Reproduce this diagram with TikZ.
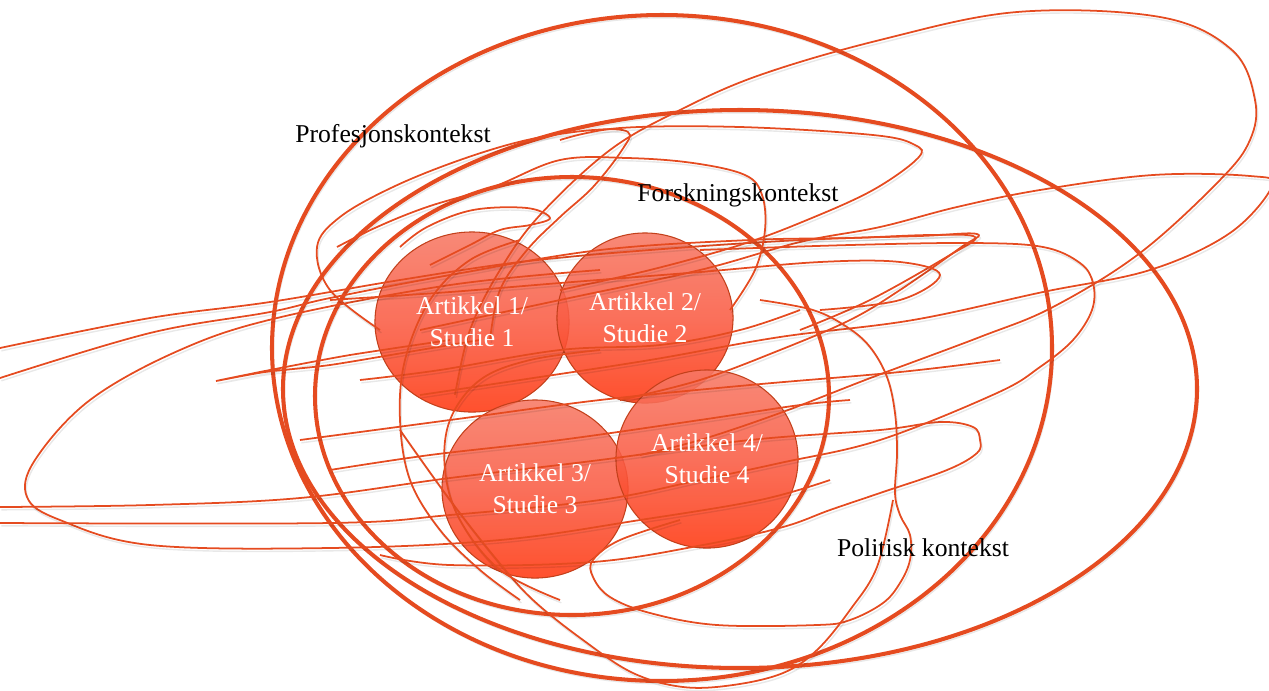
\documentclass[tikz,border=0pt]{standalone}
\usepackage{fontspec}
\setmainfont{Liberation Serif}
\usepackage{tikz}
\usetikzlibrary{shapes.geometric}

\definecolor{ctxred}{RGB}{229,75,32}
\definecolor{artlight}{RGB}{247,120,100}
\definecolor{artmid}{RGB}{249,92,68}
\definecolor{artdark}{RGB}{255,56,16}

\begin{document}
\begin{tikzpicture}[
    x=0.01cm, y=-0.01cm,
    font=\fontsize{7.3}{9.1}\selectfont,
    drop/.style   = {preaction={draw=black, draw opacity=0.09,
                     transform canvas={shift={(0.4pt,-0.8pt)}}}},
    ctx/.style    = {draw=ctxred, line width=1.15pt, drop},
    scrib/.style  = {draw=ctxred, line width=0.5pt, drop},
    art/.style    = {ellipse, draw=ctxred!85!black, line width=0.3pt,
                     top color=artlight, bottom color=artdark,
                     middle color=artmid, fill opacity=0.88,
                     inner sep=0pt},
    arttext/.style= {text=white, align=center, inner sep=0pt},
    lab/.style    = {text=black, inner sep=0.5mm}
]
\useasboundingbox (0,0) rectangle (1269,690);

% ---------------- articles (fill only) ----------------
\node[art, minimum width=1.94cm, minimum height=1.80cm] (art1) at (472,322) {};
\node[art, minimum width=1.76cm, minimum height=1.70cm] (art2) at (645,318) {};
\node[art, minimum width=1.86cm, minimum height=1.78cm] (art3) at (535,489) {};
\node[art, minimum width=1.82cm, minimum height=1.78cm] (art4) at (707,459) {};

% ---------------- context ellipses ----------------
\draw[ctx] (662,348) ellipse [x radius=390, y radius=333];
\draw[ctx] (740,389) ellipse [x radius=457, y radius=279];
\draw[ctx] (572,396) ellipse [x radius=257, y radius=219];

% ---------------- scribbles ----------------
% big loop, top right
\draw[scrib] plot[smooth, tension=0.6] coordinates {(455,395) (470,330)
  (500,270) (540,215) (610,150) (680,110) (760,75) (880,40) (1017,12)
  (1160,17) (1232,50) (1255,100) (1250,140) (1220,180) (1140,253)
  (1053,307) (980,337) (873,377) (780,413) (700,440) (640,455)};
% turn at the right edge
\draw[scrib] plot[smooth, tension=0.6] coordinates {(420,330) (560,300)
  (700,270) (800,242) (880,227) (957,207) (1040,190) (1153,175)
  (1250,176) (1272,186) (1230,233) (1150,270) (1043,292) (913,320)
  (780,337) (650,360) (520,380) (420,395)};
% long strokes from the left
\draw[scrib] plot[smooth, tension=0.6] coordinates {(0,348) (150,318)
  (270,302) (400,280) (520,262) (650,250) (800,240) (920,236) (977,234)
  (960,248) (900,290) (850,320) (780,350) (700,380) (620,400)};
\draw[scrib] plot[smooth, tension=0.6] coordinates {(0,378) (150,333)
  (270,312) (330,298) (450,275) (600,250) (750,240) (850,238) (930,235)
  (975,237) (950,255) (870,300) (800,330)};
% big loop, left
\draw[scrib] plot[smooth, tension=0.6] coordinates {(600,270) (450,285)
  (277,318) (180,350) (90,400) (35,460) (27,497) (60,520) (150,545)
  (330,548) (500,540) (640,520) (760,500) (830,480)};
\draw[scrib] plot[smooth, tension=0.6] coordinates {(0,507) (150,505)
  (300,498) (450,478) (600,460) (750,440) (880,430) (940,422) (973,427)
  (980,440) (977,453) (947,470) (880,493) (830,510) (783,527) (703,545)
  (593,562) (450,565) (380,555)};
\draw[scrib] plot[smooth, tension=0.6] coordinates {(0,523) (330,523)
  (450,515) (600,500) (700,480) (780,463) (880,440) (997,393) (1040,367)
  (1073,340) (1092,310) (1093,283) (1080,263) (1043,247) (973,243)
  (850,245) (700,250)};
% small zigzag, left
\draw[scrib] plot[smooth, tension=0.4] coordinates {(480,340) (420,350)
  (330,365) (265,372) (216,381) (270,370) (350,355) (450,340)};
% loops, top
\draw[scrib] plot[smooth, tension=0.6] coordinates {(380,330) (330,290)
  (317,247) (340,217) (393,187) (460,160) (527,140) (593,130) (628,132)
  (622,150) (593,187) (560,217) (527,250) (500,290) (490,340)};
\draw[scrib] plot[smooth, tension=0.6] coordinates {(560,140) (620,128)
  (740,127) (873,135) (915,145) (918,158) (873,190) (807,220) (740,245)
  (650,270) (560,290)};
\draw[scrib] plot[smooth, tension=0.6] coordinates {(337,247) (377,227)
  (427,207) (493,187) (560,160) (627,158) (693,163) (745,175) (762,195)
  (765,230) (755,270) (730,310)};
\draw[scrib] plot[smooth, tension=0.6] coordinates {(400,247) (427,227)
  (473,210) (527,208) (550,218) (530,225) (500,230) (470,245) (430,265)};
% strokes through the middle
\draw[scrib] plot[smooth, tension=0.6] coordinates {(330,300) (450,292)
  (560,283) (700,272) (820,262) (900,262) (940,275) (900,300) (820,310)};
\draw[scrib] plot[smooth, tension=0.6] coordinates {(300,440) (450,420)
  (600,400) (750,385) (900,372) (1000,360)};
\draw[scrib] plot[smooth, tension=0.6] coordinates {(330,470) (430,455)
  (560,440) (700,420) (800,405) (850,400)};
\draw[scrib] plot[smooth, tension=0.6] coordinates {(360,380) (440,370)
  (560,350) (660,345) (740,330) (800,310)};
% loops, bottom
\draw[scrib] plot[smooth, tension=0.6] coordinates {(760,300) (813,310)
  (847,327) (870,347) (887,377) (895,413) (897,453) (895,493) (900,515)
  (910,535) (910,560) (900,583) (883,603) (850,620) (817,625) (717,625)
  (650,613) (610,597) (593,577) (593,560) (620,540) (680,520)};
\draw[scrib] plot[smooth, tension=0.6] coordinates {(400,430) (450,500)
  (497,560) (533,600) (583,640) (633,673) (683,687) (733,685) (783,673)
  (817,650) (850,610) (877,567) (893,500)};
\draw[scrib] plot[smooth, tension=0.6] coordinates {(520,240) (470,260)
  (430,300) (405,360) (400,420) (410,480) (440,530) (480,570) (520,600)};
\draw[scrib] plot[smooth, tension=0.6] coordinates {(560,600) (500,570)
  (460,520) (445,470) (450,420) (480,380) (530,360) (600,350)};

% ---------------- article texts ----------------
\node[arttext] at (art1) {Artikkel 1/\\Studie 1};
\node[arttext] at (art2) {Artikkel 2/\\Studie 2};
\node[arttext] at (art3) {Artikkel 3/\\Studie 3};
\node[arttext] at (art4) {Artikkel 4/\\Studie 4};

% ---------------- context labels ----------------
\node[lab] (prof)  at (393,136) {Profesjonskontekst};
\node[lab] (forsk) at (738,195) {Forskningskontekst};
\node[lab] (polit) at (923,548) {Politisk kontekst};

\end{tikzpicture}
\end{document}
